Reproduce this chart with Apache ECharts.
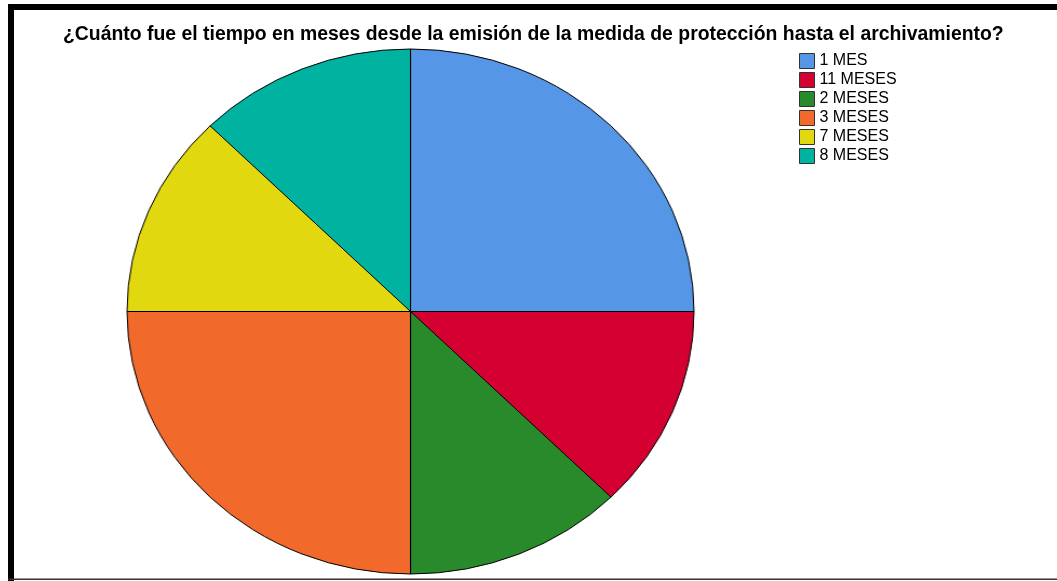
<!DOCTYPE html>
<html>
<head>
<meta charset="utf-8">
<script src="https://cdn.jsdelivr.net/npm/echarts@6/dist/echarts.min.js"></script>
<style>
  html, body { margin: 0; padding: 0; background: #fff; overflow: hidden; }
  #wrap { position: relative; width: 1057px; height: 581px; }
  #pie, #overlay { position: absolute; left: 0; top: 0; width: 1057px; height: 581px; }
  /* the pie is stretched horizontally into an ellipse */
  #pie { transform-origin: 410.5px 311.5px; transform: scaleX(1.08); }
</style>
</head>
<body>
<div id="wrap">
  <div id="pie"></div>
  <div id="overlay"></div>
</div>
<script>
// Months from protection measure to case closure
const categories = ['1 MES', '11 MESES', '2 MESES', '3 MESES', '7 MESES', '8 MESES'];
const counts = [2, 1, 1, 2, 1, 1];
const colors = ['#5596e6', '#d50032', '#298a2b', '#f2692c', '#e2d810', '#00b3a0'];
const titleText = '¿Cuánto fue el tiempo en meses desde la emisión de la medida de protección hasta el archivamiento?';

const font = '"Liberation Sans", Arial, sans-serif';
const pieData = categories.map((name, i) => ({
  name, value: counts[i], itemStyle: { color: colors[i] }
}));

const pie = echarts.init(document.getElementById('pie'), null, { renderer: 'canvas' });
pie.setOption({
  animation: false,
  series: [{
    type: 'pie',
    center: [410.5, 311.5],
    radius: 262.5,
    startAngle: 90,
    clockwise: true,
    label: { show: false },
    labelLine: { show: false },
    emphasis: { disabled: true },
    itemStyle: { borderColor: '#000', borderWidth: 1 },
    data: pieData
  }]
});

const overlay = echarts.init(document.getElementById('overlay'), null, { renderer: 'canvas' });
overlay.setOption({
  animation: false,
  title: {
    text: titleText,
    left: 63,
    top: 25,
    padding: 0,
    textStyle: { fontFamily: font, fontSize: 19.4, fontWeight: 'bold', color: '#000', lineHeight: 20 }
  },
  legend: {
    orient: 'vertical',
    left: 799,
    top: 53,
    padding: 0,
    itemWidth: 15,
    itemHeight: 15,
    itemGap: 3,
    icon: 'rect',
    selectedMode: false,
    textStyle: { fontFamily: font, fontSize: 16, color: '#000', lineHeight: 16 },
    data: categories.map((name, i) => ({
      name,
      itemStyle: { color: colors[i], borderColor: '#333', borderWidth: 1 }
    }))
  },
  // legend-only series, placed off-canvas so nothing of it is drawn
  series: [{
    type: 'pie',
    center: [-500, -500],
    radius: 1,
    silent: true,
    label: { show: false },
    labelLine: { show: false },
    data: pieData
  }],
  graphic: [
    { type: 'rect', shape: { x: 8, y: 4, width: 1049, height: 6 }, style: { fill: '#000' }, silent: true },
    { type: 'rect', shape: { x: 8, y: 4, width: 6, height: 577 }, style: { fill: '#000' }, silent: true },
    { type: 'rect', shape: { x: 8, y: 578.5, width: 1049, height: 1.5 }, style: { fill: '#333' }, silent: true }
  ]
});
</script>
</body>
</html>
